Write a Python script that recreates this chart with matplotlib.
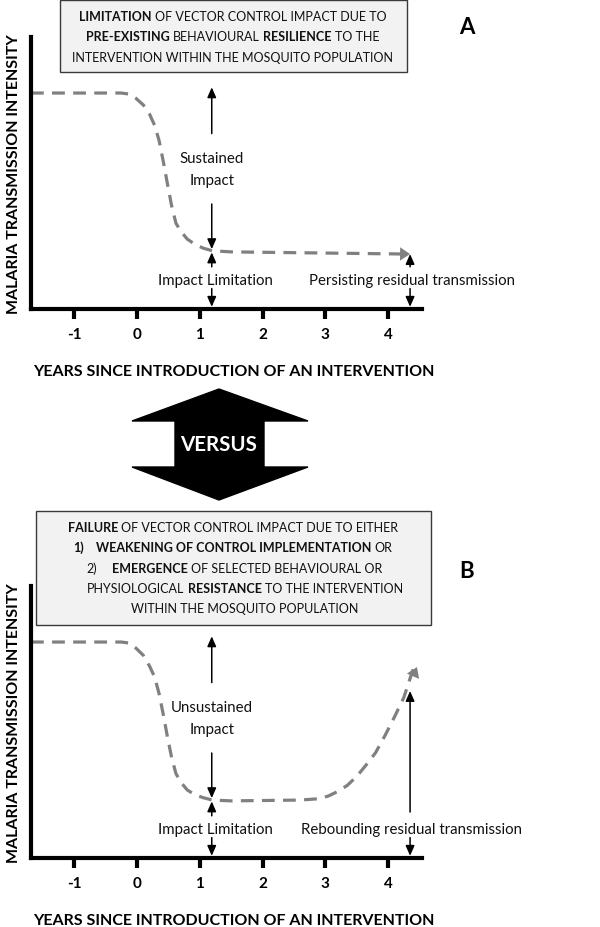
import matplotlib
matplotlib.use("Agg")
import matplotlib.pyplot as plt
from matplotlib.patches import Rectangle, Polygon

plt.rcParams["font.family"] = ["Lato", "DejaVu Sans"]

# curves (years, transmission intensity 0-10)
years_a = [-1.69, -0.25, -0.12, -0.02, 0.10, 0.20, 0.28, 0.35, 0.42, 0.48, 0.55,
           0.62, 0.70, 0.80, 0.92, 1.05, 1.20, 1.50, 4.35]
level_a = [7.94, 7.94, 7.90, 7.75, 7.50, 7.16, 6.75, 6.20, 5.40, 4.65, 3.80,
           3.15, 2.85, 2.57, 2.38, 2.24, 2.14, 2.10, 2.02]

years_b = [-1.69, -0.25, -0.12, -0.02, 0.10, 0.20, 0.28, 0.35, 0.42, 0.48, 0.55,
           0.62, 0.70, 0.80, 0.92, 1.05, 1.20, 1.50, 2.60, 2.90, 3.05, 3.20,
           3.35, 3.50, 3.65, 3.80, 3.95, 4.10, 4.25, 4.46]
level_b = [7.94, 7.94, 7.90, 7.72, 7.45, 7.05, 6.65, 6.05, 5.25, 4.50, 3.70,
           3.10, 2.78, 2.50, 2.33, 2.22, 2.13, 2.10, 2.13, 2.18, 2.28, 2.45,
           2.67, 3.00, 3.42, 3.87, 4.50, 5.18, 5.90, 7.02]

tick_years = [-1, 0, 1, 2, 3, 4]
tick_labels = ["-1", "0", "1", "2", "3", "4"]

W, H = 600, 928
fig = plt.figure(figsize=(W / 100, H / 100), dpi=100)
renderer = fig.canvas.get_renderer()
ink = "#111111"
box_size = 9.0


def fx(px):
    return px / W


def fy(py):
    return 1 - py / H


def fit_size(text, width, weight="bold", base=15):
    t = fig.text(0, 0, text, size=base, weight=weight)
    w = t.get_window_extent(renderer).width
    t.remove()
    return base * width / w


def rich_line(cx, cy, parts, size=box_size):
    # draw a centred line made of bold / normal runs
    probe1 = fig.text(0, 0, "x x", size=size)
    probe2 = fig.text(0, 0, "xx", size=size)
    space = probe1.get_window_extent(renderer).width - probe2.get_window_extent(renderer).width
    probe1.remove()
    probe2.remove()
    texts, widths, gaps = [], [], []
    for i, p in enumerate(parts):
        s, bold = p[0], p[1]
        gap = p[2] if len(p) > 2 else space
        t = fig.text(0, 0, s, size=size, weight="bold" if bold else "normal",
                     va="center", ha="left", color=ink)
        texts.append(t)
        widths.append(t.get_window_extent(renderer).width)
        gaps.append(0 if i == 0 else gap)
    total = sum(widths) + sum(gaps)
    x = cx - total / 2
    for t, w, g in zip(texts, widths, gaps):
        x += g
        t.set_position((fx(x), fy(cy)))
        x += w


xlabel = "YEARS SINCE INTRODUCTION OF AN INTERVENTION"
xlabel_size = fit_size(xlabel, 402)
ylabel = "MALARIA TRANSMISSION INTENSITY"
ylabel_size = fit_size(ylabel, 280)
note_size = 10.8


def panel(top, years, level, mid_text, right_text, right_up):
    ax = fig.add_axes([fx(31), fy(top + 272), fx(422) - fx(31), 272 / H])
    ax.set_xlim(-1.69, 4.54)
    ax.set_ylim(0, 10)
    ax.patch.set_alpha(0)
    for s in ["top", "right"]:
        ax.spines[s].set_visible(False)
    for s in ["left", "bottom"]:
        ax.spines[s].set_linewidth(3)
        ax.spines[s].set_capstyle("projecting")
    ax.set_yticks([])
    ax.set_xticks(tick_years)
    ax.set_xticklabels(tick_labels, fontweight="bold", fontsize=11)
    ax.tick_params(axis="x", direction="out", length=7, width=3, pad=6)
    ax.text(0.519, -0.228, xlabel, transform=ax.transAxes, ha="center",
            va="center", fontweight="bold", fontsize=xlabel_size, color="black")
    ax.set_ylabel(ylabel, fontweight="bold", fontsize=ylabel_size, labelpad=7)

    grey = "#808080"
    ax.plot(years[:-1] + [years[-1] - 0.05], level[:-1] + [level[-1]], color=grey,
            lw=2.3, ls=(0, (4, 2.6)), dash_capstyle="butt")
    ax.annotate("", xy=(years[-1], level[-1]), xytext=(years[-2], level[-2]),
                arrowprops=dict(arrowstyle="-|>,head_length=0.45,head_width=0.3",
                                color=grey, lw=0, shrinkA=0, shrinkB=0,
                                mutation_scale=16))

    def arrow(x, y0, y1):
        ax.annotate("", xy=(x, y1), xytext=(x, y0),
                    arrowprops=dict(arrowstyle="-|>,head_length=0.5,head_width=0.22",
                                    color="black", lw=1.1, shrinkA=0, shrinkB=0,
                                    mutation_scale=12))

    xm, xr = 1.19, 4.35
    arrow(xm, 6.45, 8.15)
    ax.text(xm, 5.16, mid_text, ha="center", va="center", fontsize=note_size,
            linespacing=1.75, color=ink)
    arrow(xm, 3.86, 2.2)
    arrow(xm, 1.55, 2.08)
    ax.text(xm + 0.06, 1.08, "Impact Limitation", ha="center", va="center",
            fontsize=note_size, color=ink)
    arrow(xm, 0.75, 0.08)
    arrow(xr, right_up[0], right_up[1])
    ax.text(xr + 0.03, 1.08, right_text, ha="center", va="center",
            fontsize=note_size, color=ink)
    arrow(xr, 0.75, 0.08)
    return ax


panel(38, years_a, level_a, "Sustained\nImpact",
      "Persisting residual transmission", (1.55, 2.02))
panel(587, years_b, level_b, "Unsustained\nImpact",
      "Rebounding residual transmission", (1.69, 6.14))

# text boxes
fig.patches.append(Rectangle((fx(60), fy(73)), fx(407) - fx(60), 72 / H,
                             transform=fig.transFigure, facecolor="#f2f2f2",
                             edgecolor="#3a3a3a", lw=1))
fig.patches.append(Rectangle((fx(36), fy(626)), fx(431) - fx(36), 114 / H,
                             transform=fig.transFigure, facecolor="#f2f2f2",
                             edgecolor="#3a3a3a", lw=1))

rich_line(233, 17, [("LIMITATION", True), ("OF VECTOR CONTROL IMPACT DUE TO", False)])
rich_line(233, 37, [("PRE-EXISTING", True), ("BEHAVIOURAL", False),
                    ("RESILIENCE", True), ("TO THE", False)])
rich_line(233, 58, [("INTERVENTION WITHIN THE MOSQUITO POPULATION", False)])

rich_line(233, 528, [("FAILURE", True), ("OF VECTOR CONTROL IMPACT DUE TO EITHER", False)])
rich_line(233, 548, [("1)", True), ("WEAKENING OF CONTROL IMPLEMENTATION", True, 12),
                     ("OR", False)])
rich_line(234, 569, [("2)", False), ("EMERGENCE", True, 15),
                     ("OF SELECTED BEHAVIOURAL OR", False)])
rich_line(245, 589, [("PHYSIOLOGICAL", False), ("RESISTANCE", True),
                     ("TO THE INTERVENTION", False)])
rich_line(245, 609, [("WITHIN THE MOSQUITO POPULATION", False)])

# panel letters
fig.text(fx(467), fy(27), "A", fontsize=16, fontweight="bold", ha="center", va="center")
fig.text(fx(467), fy(572), "B", fontsize=16, fontweight="bold", ha="center", va="center")

# double headed VERSUS arrow
verts = [(219, 390), (308, 422), (264, 422), (264, 468), (308, 468), (219, 501),
         (132, 468), (175, 468), (175, 422), (132, 422)]
fig.patches.append(Polygon([(fx(x), fy(y)) for x, y in verts], closed=True,
                           transform=fig.transFigure, facecolor="black",
                           edgecolor="black"))
fig.text(fx(219), fy(445), "VERSUS", color="white", fontsize=fit_size("VERSUS", 77),
         fontweight="bold", ha="center", va="center")

fig.savefig("out.png", dpi=100, facecolor="white")
